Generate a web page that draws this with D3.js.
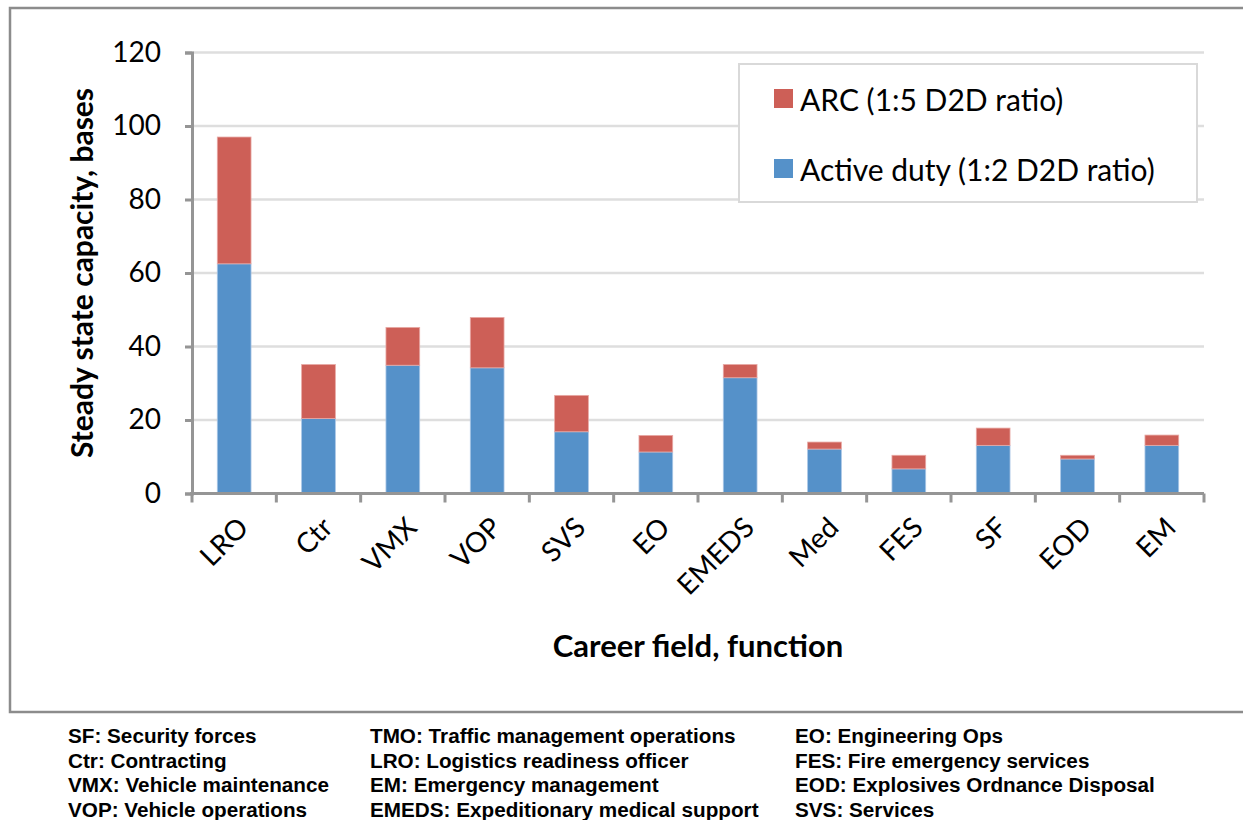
<!DOCTYPE html>
<html><head><meta charset="utf-8">
<script src="https://cdnjs.cloudflare.com/ajax/libs/d3/7.8.5/d3.min.js"></script>
<style>body{margin:0;background:#fff}svg{display:block}</style>
</head><body>
<svg id="c" width="1243" height="820"></svg>
<script>
const categories = ["LRO","Ctr","VMX","VOP","SVS","EO","EMEDS","Med","FES","SF","EOD","EM"];
const activeDuty = [62.5,20.4,34.9,34.2,16.8,11.3,31.5,12.1,6.7,13.1,9.4,13.1];
const arc        = [34.5,14.7,10.3,13.7,9.9,4.5,3.6,1.9,3.7,4.7,1.0,2.8];
const yTicks = [0,20,40,60,80,100,120];
const seriesNames = ["ARC (1:5 D2D ratio)","Active duty (1:2 D2D ratio)"];
const footnotes = [
  ["SF: Security forces","Ctr: Contracting","VMX: Vehicle maintenance","VOP: Vehicle operations"],
  ["TMO: Traffic management operations","LRO: Logistics readiness officer","EM: Emergency management","EMEDS: Expeditionary medical support"],
  ["EO: Engineering Ops","FES: Fire emergency services","EOD: Explosives Ordnance Disposal","SVS: Services"]
];
const colors = {ad:"#5591c9", arc:"#cd5f57"};
const FONT = "Lato, 'Open Sans', sans-serif";

const svg = d3.select("#c");
// outer frame
svg.append("rect").attr("x",10).attr("y",8).attr("width",1260).attr("height",704)
  .attr("fill","none").attr("stroke","#8c8c8c").attr("stroke-width",2.5);

const L=192, R=1204, T=52.5, B=493.5;
const x = d3.scaleBand().domain(categories).range([L,R]).paddingInner(0.6).paddingOuter(0.3);
const y = d3.scaleLinear().domain([0,120]).range([B,T]);

// gridlines
svg.append("g").selectAll("line").data(yTicks.filter(d=>d>0)).join("line")
  .attr("x1",L).attr("x2",R).attr("y1",d=>y(d)).attr("y2",d=>y(d))
  .attr("stroke","#dedede").attr("stroke-width",2.5);

// bars
const data = categories.map((c,i)=>({c, ad:activeDuty[i], arc:arc[i]}));
const g = svg.append("g");
g.selectAll(".ad").data(data).join("rect")
  .attr("x",d=>x(d.c)).attr("width",x.bandwidth())
  .attr("y",d=>y(d.ad)).attr("height",d=>y(0)-y(d.ad))
  .attr("fill",colors.ad).attr("stroke","#a9c6e6").attr("stroke-width",0.8);
g.selectAll(".arc").data(data).join("rect")
  .attr("x",d=>x(d.c)).attr("width",x.bandwidth())
  .attr("y",d=>y(d.ad+d.arc)).attr("height",d=>y(d.ad)-y(d.ad+d.arc))
  .attr("fill",colors.arc).attr("stroke","#e8a9a5").attr("stroke-width",0.8);

// y axis
const yAxis = d3.axisLeft(y).tickValues(yTicks).tickSize(7).tickPadding(24);
const ya = svg.append("g").attr("transform",`translate(${L},0)`).call(yAxis);
ya.select(".domain").attr("stroke","#959595").attr("stroke-width",3);
ya.selectAll(".tick line").attr("stroke","#959595").attr("stroke-width",3);
ya.selectAll(".tick text").attr("font-family",FONT).attr("font-size",28).attr("fill","#000");

// x axis
const xa = svg.append("g").attr("transform",`translate(0,${B})`);
xa.append("line").attr("x1",L-2).attr("x2",R).attr("stroke","#959595").attr("stroke-width",3);
const step = x.step();
const bounds = categories.map(c=>x(c)-step*0.3).concat([x(categories[categories.length-1])+x.bandwidth()+step*0.3]);
xa.selectAll(".tk").data(bounds).join("line")
  .attr("x1",d=>d).attr("x2",d=>d).attr("y1",0).attr("y2",9)
  .attr("stroke","#959595").attr("stroke-width",3);
xa.selectAll(".lbl").data(categories).join("text")
  .attr("transform",c=>`translate(${x(c)+x.bandwidth()/2+2},22) rotate(-45)`)
  .attr("text-anchor","end").attr("dy","0.7em")
  .attr("font-family",FONT).attr("font-size",28).text(c=>c);

// axis titles
svg.append("text").attr("transform",`translate(93,${(T+B)/2}) rotate(-90)`)
  .attr("text-anchor","middle").attr("font-family",FONT).attr("font-weight","bold")
  .attr("font-size",30).text("Steady state capacity, bases");
svg.append("text").attr("x",698).attr("y",657).attr("text-anchor","middle")
  .attr("font-family",FONT).attr("font-weight","bold").attr("font-size",31)
  .text("Career field, function");

// legend
const lg = svg.append("g");
lg.append("rect").attr("x",739).attr("y",64).attr("width",458).attr("height",138)
  .attr("fill","#fff").attr("stroke","#d9d9d9").attr("stroke-width",2);
const legendItems = [{n:seriesNames[0],c:colors.arc,y:98},{n:seriesNames[1],c:colors.ad,y:168}];
lg.selectAll(".sw").data(legendItems).join("rect")
  .attr("x",774).attr("y",d=>d.y-9).attr("width",19).attr("height",19).attr("fill",d=>d.c);
lg.selectAll(".lt").data(legendItems).join("text")
  .attr("x",800).attr("y",d=>d.y+13).attr("font-family",FONT).attr("font-size",30).text(d=>d.n);

// footnotes
const colX = [68,370,795];
footnotes.forEach((col,ci)=>{
  svg.append("g").selectAll("text").data(col).join("text")
    .attr("x",colX[ci]).attr("y",(d,i)=>743+i*24.5)
    .attr("font-family","'Liberation Sans', Arial, sans-serif").attr("font-weight","bold")
    .attr("font-size",20.7).text(d=>d);
});
</script>
</body></html>
